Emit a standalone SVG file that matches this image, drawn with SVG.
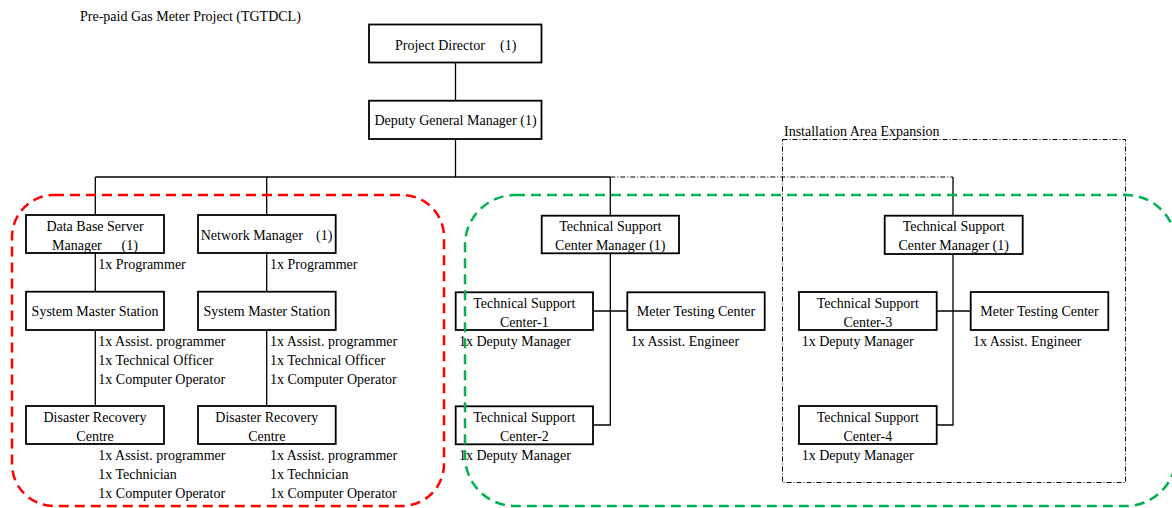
<svg xmlns="http://www.w3.org/2000/svg" width="1172" height="508" viewBox="0 0 1172 508">
  <style>
    text { font-family: "Liberation Serif", "Times New Roman", serif; font-size: 14px; fill: #000; }
    .c { text-anchor: middle; }
    .box { fill: #fff; stroke: #000; stroke-width: 1.8; }
    .wire { fill: none; stroke: #000; stroke-width: 1.3; }
    .wire-dd { fill: none; stroke: #000; stroke-width: 1; stroke-dasharray: 5 2 1 2; }
    .zone-red { fill: none; stroke: #ff0000; stroke-width: 2.5; stroke-dasharray: 10 6; }
    .zone-green { fill: none; stroke: #00b050; stroke-width: 2.5; stroke-dasharray: 10 6; }
    .zone-dd { fill: none; stroke: #000; stroke-width: 1; stroke-dasharray: 5 2 1 2; }
  </style>
  <rect width="1172" height="508" fill="#fff"/>

  <text x="80" y="21">Pre-paid Gas Meter Project (TGTDCL)</text>

  <!-- expansion area frame -->
  <g id="expansion-area">
    <rect class="zone-dd" x="782.5" y="139.5" width="343" height="343"/>
    <text x="784" y="136">Installation Area Expansion</text>
  </g>

  <!-- connectors -->
  <g id="connectors">
    <line class="wire" x1="455.5" y1="62.5" x2="455.5" y2="100.7"/>
    <line class="wire" x1="455.5" y1="139" x2="455.5" y2="177"/>
    <line class="wire" x1="95.3" y1="177" x2="610.3" y2="177"/>
    <line class="wire-dd" x1="610.3" y1="177" x2="953" y2="177"/>
    <line class="wire" x1="95.3" y1="177" x2="95.3" y2="215"/>
    <line class="wire" x1="266.7" y1="177" x2="266.7" y2="215"/>
    <line class="wire" x1="610.3" y1="177" x2="610.3" y2="215.7"/>
    <line class="wire" x1="953" y1="177" x2="953" y2="215.7"/>
    <line class="wire" x1="95.3" y1="253" x2="95.3" y2="291.7"/>
    <line class="wire" x1="95.3" y1="330" x2="95.3" y2="406"/>
    <line class="wire" x1="266.7" y1="253" x2="266.7" y2="291.7"/>
    <line class="wire" x1="266.7" y1="330" x2="266.7" y2="406"/>
    <polyline class="wire" points="610.3,253.3 610.3,425 593,425"/>
    <line class="wire" x1="593" y1="311" x2="627.3" y2="311"/>
    <polyline class="wire" points="953,254 953,425 936.7,425"/>
    <line class="wire" x1="936.7" y1="311" x2="970.7" y2="311"/>
  </g>

  <!-- top management -->
  <g id="project-director">
    <rect class="box" x="369" y="24.5" width="172.5" height="38"/>
    <text x="395" y="50">Project Director</text>
    <text x="500" y="50">(1)</text>
  </g>
  <g id="deputy-general-manager">
    <rect class="box" x="369" y="100.7" width="172.5" height="38.3"/>
    <text class="c" x="455.5" y="125">Deputy General Manager (1)</text>
  </g>

  <!-- data base branch -->
  <g id="db-server-manager">
    <rect class="box" x="26" y="215" width="138" height="38"/>
    <text class="c" x="95" y="231">Data Base Server</text>
    <text x="52" y="250">Manager</text>
    <text x="121.5" y="250">(1)</text>
    <text x="98.3" y="269">1x Programmer</text>
  </g>
  <g id="sms-1">
    <rect class="box" x="26" y="291.7" width="138" height="38.3"/>
    <text class="c" x="95" y="316">System Master Station</text>
    <text x="98.3" y="346">1x Assist. programmer</text>
    <text x="98.3" y="365">1x Technical Officer</text>
    <text x="98.3" y="384">1x Computer Operator</text>
  </g>
  <g id="drc-1">
    <rect class="box" x="26" y="406" width="138" height="38"/>
    <text class="c" x="95" y="422">Disaster Recovery</text>
    <text class="c" x="95" y="441">Centre</text>
    <text x="98.3" y="460">1x Assist. programmer</text>
    <text x="98.3" y="479">1x Technician</text>
    <text x="98.3" y="498">1x Computer Operator</text>
  </g>

  <!-- network branch -->
  <g id="network-manager">
    <rect class="box" x="198" y="215" width="137.7" height="38"/>
    <text x="200.7" y="240">Network Manager</text>
    <text x="316" y="240">(1)</text>
    <text x="270" y="269">1x Programmer</text>
  </g>
  <g id="sms-2">
    <rect class="box" x="198" y="291.7" width="137.7" height="38.3"/>
    <text class="c" x="266.8" y="316">System Master Station</text>
    <text x="270" y="346">1x Assist. programmer</text>
    <text x="270" y="365">1x Technical Officer</text>
    <text x="270" y="384">1x Computer Operator</text>
  </g>
  <g id="drc-2">
    <rect class="box" x="198" y="406" width="137.7" height="38"/>
    <text class="c" x="266.8" y="422">Disaster Recovery</text>
    <text class="c" x="266.8" y="441">Centre</text>
    <text x="270" y="460">1x Assist. programmer</text>
    <text x="270" y="479">1x Technician</text>
    <text x="270" y="498">1x Computer Operator</text>
  </g>

  <!-- technical support, existing area -->
  <g id="tsc-manager-a">
    <rect class="box" x="541.7" y="215.7" width="137.3" height="37.6"/>
    <text class="c" x="610.3" y="231">Technical Support</text>
    <text class="c" x="610.3" y="250">Center Manager (1)</text>
  </g>
  <g id="tsc-1">
    <rect class="box" x="455.7" y="292.3" width="137.3" height="37.7"/>
    <text class="c" x="524.3" y="308">Technical Support</text>
    <text class="c" x="524.3" y="327">Center-1</text>
    <text x="459" y="346">1x Deputy Manager</text>
  </g>
  <g id="mtc-a">
    <rect class="box" x="627.3" y="292.3" width="137.4" height="37.7"/>
    <text class="c" x="696" y="316">Meter Testing Center</text>
    <text x="630.7" y="346">1x Assist. Engineer</text>
  </g>
  <g id="tsc-2">
    <rect class="box" x="455.7" y="406.3" width="137.3" height="38"/>
    <text class="c" x="524.3" y="422">Technical Support</text>
    <text class="c" x="524.3" y="441">Center-2</text>
    <text x="459" y="460">1x Deputy Manager</text>
  </g>

  <!-- technical support, expansion area -->
  <g id="tsc-manager-b">
    <rect class="box" x="884.7" y="215.7" width="138" height="38.3"/>
    <text class="c" x="953.7" y="231">Technical Support</text>
    <text class="c" x="953.7" y="250">Center Manager (1)</text>
  </g>
  <g id="tsc-3">
    <rect class="box" x="799" y="292" width="137.7" height="38"/>
    <text class="c" x="867.8" y="308">Technical Support</text>
    <text class="c" x="867.8" y="327">Center-3</text>
    <text x="801.7" y="346">1x Deputy Manager</text>
  </g>
  <g id="mtc-b">
    <rect class="box" x="970.7" y="292" width="137.6" height="38"/>
    <text class="c" x="1039.5" y="316">Meter Testing Center</text>
    <text x="973" y="346">1x Assist. Engineer</text>
  </g>
  <g id="tsc-4">
    <rect class="box" x="799" y="406" width="137.7" height="38"/>
    <text class="c" x="867.8" y="422">Technical Support</text>
    <text class="c" x="867.8" y="441">Center-4</text>
    <text x="801.7" y="460">1x Deputy Manager</text>
  </g>

  <!-- grouping outlines -->
  <g id="zones">
    <rect class="zone-red" x="12" y="195" width="432" height="311" rx="42" ry="42"/>
    <rect class="zone-green" x="465" y="195" width="711" height="311" rx="50" ry="50"/>
  </g>
</svg>
